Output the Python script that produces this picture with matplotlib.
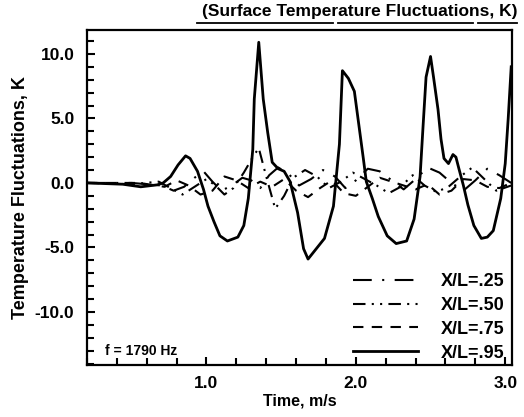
import matplotlib
matplotlib.use("Agg")
import matplotlib.pyplot as plt
from matplotlib.ticker import MultipleLocator, FixedLocator
from matplotlib.lines import Line2D

plt.rcParams['font.family'] = ['Liberation Sans', 'DejaVu Sans']
plt.rcParams['font.weight'] = 'bold'

# ---- data ----
t95 = [0.20, 0.44, 0.56, 0.67, 0.71, 0.76, 0.81, 0.86, 0.89, 0.94, 0.98, 1.01, 1.05, 1.09, 1.14,
       1.21, 1.25, 1.28, 1.31, 1.32, 1.35, 1.38, 1.41, 1.44, 1.48, 1.52, 1.56, 1.61, 1.65, 1.68,
       1.79, 1.85, 1.89, 1.91, 1.95, 1.99, 2.02, 2.05, 2.07, 2.11, 2.15, 2.21, 2.27, 2.34, 2.39,
       2.43, 2.45, 2.47, 2.50, 2.52, 2.55, 2.57, 2.59, 2.62, 2.65, 2.67, 2.69, 2.72, 2.75, 2.79,
       2.84, 2.88, 2.92, 2.97, 3.00, 3.02, 3.04]
v95 = [0.0, -0.1, -0.3, -0.15, 0.0, 0.5, 1.4, 2.1, 1.9, 0.9, -0.5, -1.8, -3.0, -4.1, -4.5,
       -4.2, -3.3, -1.2, 2.6, 6.5, 10.9, 6.5, 3.9, 1.6, 1.1, 0.9, 0.1, -2.3, -5.1, -5.9,
       -4.3, -1.8, 3.0, 8.7, 8.1, 7.1, 4.5, 1.9, 0.1, -1.2, -2.6, -4.1, -4.7, -4.5, -2.8,
       0.5, 4.4, 8.2, 9.8, 8.2, 5.7, 3.4, 1.9, 1.5, 2.2, 2.0, 1.1, -0.2, -1.7, -3.3,
       -4.3, -4.2, -3.7, -1.2, 1.5, 5.0, 9.0]

t25 = [0.20, 0.50, 0.70, 0.78, 0.85, 0.92, 0.98, 1.04, 1.10, 1.17, 1.24, 1.30, 1.36, 1.42, 1.48,
       1.55, 1.62, 1.70, 1.78, 1.86, 1.93, 2.00, 2.08, 2.16, 2.24, 2.32, 2.40, 2.48, 2.56, 2.64,
       2.72, 2.80, 2.88, 2.96, 3.04]
v25 = [0.0, 0.0, -0.2, -0.6, -0.3, 0.4, 0.9, 0.1, -0.6, -0.2, 0.4, 0.2, -0.4, 0.6, 1.2,
       0.7, -0.2, 0.3, 1.0, 0.5, -0.4, 0.2, 1.1, 0.9, 0.2, -0.5, 0.3, 1.2, 0.8, 0.0,
       -0.6, 0.2, 1.1, 0.6, 0.0]

t50 = [0.20, 0.50, 0.68, 0.76, 0.84, 0.92, 1.00, 1.06, 1.12, 1.18, 1.25, 1.31, 1.35, 1.40, 1.46,
       1.52, 1.58, 1.66, 1.74, 1.82, 1.90, 1.98, 2.06, 2.14, 2.22, 2.30, 2.38, 2.46, 2.54, 2.62,
       2.70, 2.78, 2.86, 2.94, 3.04]
v50 = [0.0, -0.1, 0.1, -0.4, -0.9, -0.3, 0.3, -0.2, -0.9, -0.4, 0.8, 2.0, 2.7, 0.5, -2.0,
       -1.0, 0.4, 1.0, 0.5, -0.4, 0.1, 0.8, 0.3, -0.2, -0.8, -0.3, 0.6, -0.2, -0.7, -0.3,
       0.5, 1.2, 0.3, -0.6, -0.2]

t75 = [0.20, 0.55, 0.72, 0.80, 0.88, 0.96, 1.04, 1.12, 1.20, 1.28, 1.36, 1.44, 1.52, 1.60, 1.68,
       1.76, 1.84, 1.92, 2.00, 2.08, 2.16, 2.24, 2.32, 2.40, 2.48, 2.56, 2.64, 2.72, 2.80, 2.88,
       2.96, 3.04]
v75 = [0.0, 0.0, -0.3, 0.2, -0.2, -0.9, -0.6, 0.5, 0.2, -0.4, 0.1, -0.3, 0.3, -0.6, -1.1,
       -0.4, 0.2, -0.8, -1.0, -0.3, 0.4, 0.1, -0.2, -0.5, -0.1, -0.9, -0.6, 0.3, 0.2, -0.3,
       -0.4, 0.0]

legend_labels = ['X/L=.25', 'X/L=.50', 'X/L=.75', 'X/L=.95']
x_major = [1.0, 2.0, 3.0]
x_major_labels = ['1.0', '2.0', '3.0']
y_major = [-10.0, -5.0, 0.0, 5.0, 10.0]
y_major_labels = ['-10.0', '-5.0', '0.0', '5.0', '10.0']

# ---- figure ----
fig = plt.figure(figsize=(5.24, 4.17), dpi=100)
ax = fig.add_axes([0.166, 0.125, 0.811, 0.803])

ls25 = (0, (9, 5, 1, 5))
ls50 = (0, (6, 3, 1, 3, 1, 3))
ls75 = (0, (5, 4))

ax.plot(t25, v25, color='black', lw=1.5, linestyle=ls25)
ax.plot(t50, v50, color='black', lw=1.5, linestyle=ls50)
ax.plot(t75, v75, color='black', lw=1.5, linestyle=ls75)
ax.plot(t95, v95, color='black', lw=2.0, linestyle='-')

ax.set_xlim(0.2, 3.045)
ax.set_ylim(-14.1, 11.85)

ax.xaxis.set_major_locator(FixedLocator(x_major))
ax.set_xticklabels(x_major_labels)
ax.xaxis.set_minor_locator(MultipleLocator(0.2))
ax.yaxis.set_major_locator(FixedLocator(y_major))
ax.set_yticklabels(y_major_labels)
ax.yaxis.set_minor_locator(MultipleLocator(1.0))

ax.tick_params(which='both', direction='in', top=False, right=False, width=1.5)
ax.tick_params(which='major', length=6, labelsize=12.5)
ax.tick_params(axis='y', which='major', pad=9)
ax.tick_params(axis='x', which='major', pad=8)
ax.tick_params(which='minor', length=5)
for lab in ax.get_xticklabels() + ax.get_yticklabels():
    lab.set_fontweight('bold')
for s in ax.spines.values():
    s.set_linewidth(1.6)

ax.set_xlabel('Time, m/s', fontsize=11.5, fontweight='bold', labelpad=2)
ax.set_ylabel('Temperature Fluctuations, K', fontsize=13, fontweight='bold', labelpad=4)

fig.text(0.987, 0.972, '(Surface Temperature Fluctuations, K)', ha='right', va='center',
         fontsize=12.5, fontweight='bold')
for x0, x1 in [(197, 333), (338, 473), (478, 517)]:
    fig.add_artist(Line2D([x0 / 524, x1 / 524], [0.946, 0.946], color='black', lw=1.3,
                          transform=fig.transFigure))

ax.text(0.042, 0.04, 'f = 1790 Hz', transform=ax.transAxes, fontsize=10, fontweight='bold',
        ha='left', va='center')

handles = [Line2D([], [], color='black', lw=1.5, linestyle=ls25),
           Line2D([], [], color='black', lw=1.5, linestyle=ls50),
           Line2D([], [], color='black', lw=1.5, linestyle=ls75),
           Line2D([], [], color='black', lw=2.0, linestyle='-')]
leg = ax.legend(handles, legend_labels, loc='lower right', frameon=False,
                prop={'weight': 'bold', 'size': 13}, handlelength=3.6, handletextpad=1.3,
                labelspacing=0.38, borderaxespad=0.0, bbox_to_anchor=(1.0, -0.012))

fig.savefig('out.png', dpi=100)
